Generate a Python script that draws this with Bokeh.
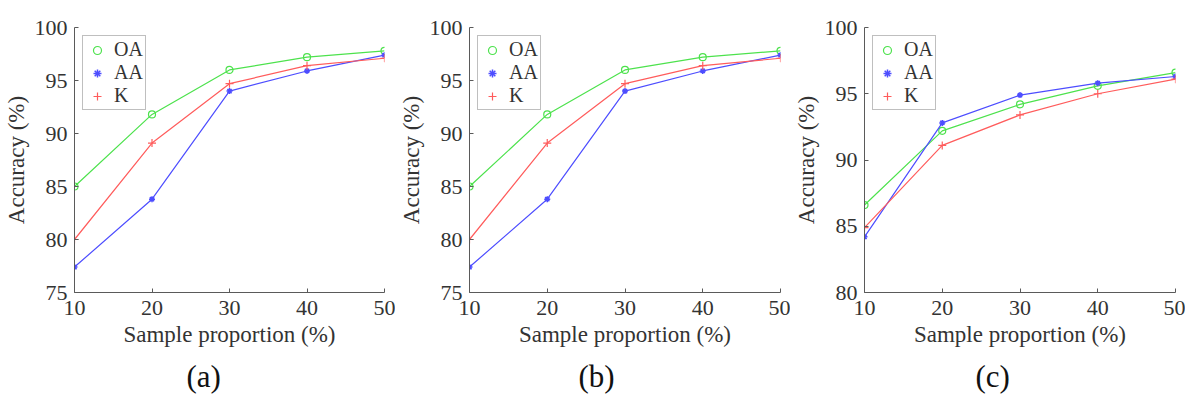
from bokeh.plotting import figure
from bokeh.layouts import row
from bokeh.models import Range1d, Legend, LegendItem, Title, FixedTicker
from bokeh.embed import file_html
from bokeh.resources import INLINE

x = [10, 20, 30, 40, 50]

# panel (a)
oa_a = [85.0, 91.8, 96.0, 97.2, 97.8]
aa_a = [77.4, 83.8, 94.0, 95.9, 97.4]
k_a = [80.0, 89.1, 94.7, 96.4, 97.1]
# panel (b)
oa_b = [85.0, 91.8, 96.0, 97.2, 97.8]
aa_b = [77.4, 83.8, 94.0, 95.9, 97.4]
k_b = [80.0, 89.1, 94.7, 96.4, 97.1]
# panel (c)
oa_c = [86.6, 92.2, 94.2, 95.6, 96.6]
aa_c = [84.2, 92.8, 94.9, 95.8, 96.3]
k_c = [84.9, 91.1, 93.4, 95.0, 96.1]

captions = ["(a)", "(b)", "(c)"]
y_ranges = [(75, 100), (75, 100), (80, 100)]
y_ticks = [[75, 80, 85, 90, 95, 100], [75, 80, 85, 90, 95, 100], [80, 85, 90, 95, 100]]

FONT = "Liberation Serif"
GREEN = "#4de24d"
BLUE = "#4d4dff"
RED = "#ff5c5c"
AXC = "#5a5a5a"
TXC = "#333333"


def make_panel(oa, aa, k, cap, yr, yt, left, top, bottom, cap_off):
    p = figure(width=395, height=400, output_backend="svg", toolbar_location=None,
               x_range=Range1d(10, 50), y_range=Range1d(*yr),
               min_border_left=left, min_border_right=395 - left - 311,
               min_border_top=top, min_border_bottom=400 - bottom)
    p.outline_line_color = None
    p.grid.grid_line_color = None
    for ax in (p.xaxis[0], p.yaxis[0]):
        ax.axis_line_color = AXC
        ax.major_tick_line_color = AXC
        ax.major_tick_in = 4
        ax.major_tick_out = 0
        ax.minor_tick_line_color = None
        ax.major_label_text_font = FONT
        ax.major_label_text_font_size = "22px"
        ax.major_label_text_color = TXC
        ax.axis_label_text_font = FONT
        ax.axis_label_text_font_size = "23px"
        ax.axis_label_text_font_style = "normal"
        ax.axis_label_text_color = TXC
    p.xaxis.ticker = FixedTicker(ticks=x)
    p.yaxis.ticker = FixedTicker(ticks=yt)
    p.xaxis.axis_label = "Sample proportion (%)"
    p.yaxis.axis_label = "Accuracy (%)"
    p.xaxis.major_label_standoff = 8
    p.xaxis.axis_label_standoff = 4
    p.yaxis.major_label_standoff = 7
    p.yaxis.axis_label_standoff = 3

    p.line(x, oa, color=GREEN, line_width=1.2)
    m1 = p.scatter(x, oa, marker="circle", size=7, line_color=GREEN, fill_color=None, line_width=1.2)
    p.line(x, aa, color=BLUE, line_width=1.2)
    m2 = p.scatter(x, aa, marker="asterisk", size=6, line_color=BLUE, line_width=1.5)
    p.line(x, k, color=RED, line_width=1.2)
    m3 = p.scatter(x, k, marker="cross", size=8, line_color=RED, line_width=1.2)

    legend = Legend(items=[LegendItem(label="OA", renderers=[m1]),
                           LegendItem(label="AA", renderers=[m2]),
                           LegendItem(label="K", renderers=[m3])],
                    location="top_left")
    legend.margin = 8
    legend.padding = 2
    legend.spacing = 0
    legend.glyph_width = 24
    legend.glyph_height = 20
    legend.label_height = 20
    legend.label_standoff = 5
    legend.label_text_font = FONT
    legend.label_text_font_size = "20px"
    legend.label_text_line_height = 1.0
    legend.label_text_color = TXC
    legend.border_line_color = "#808080"
    legend.border_line_width = 1
    legend.background_fill_alpha = 1.0
    p.add_layout(legend)

    t = Title(text=cap, align="left", text_font=FONT, text_font_size="31px",
              text_font_style="normal", text_color="#111111", offset=cap_off, standoff=14)
    p.add_layout(t, "below")
    return p


pa = make_panel(oa_a, aa_a, k_a, captions[0], y_ranges[0], y_ticks[0], 73, 24, 293, 112)
pb = make_panel(oa_b, aa_b, k_b, captions[1], y_ranges[1], y_ticks[1], 74, 27, 295, 109)
pc = make_panel(oa_c, aa_c, k_c, captions[2], y_ranges[2], y_ticks[2], 74, 27, 298, 111)

layout = row(pa, pb, pc)
open("out.html", "w").write(file_html(layout, INLINE))
